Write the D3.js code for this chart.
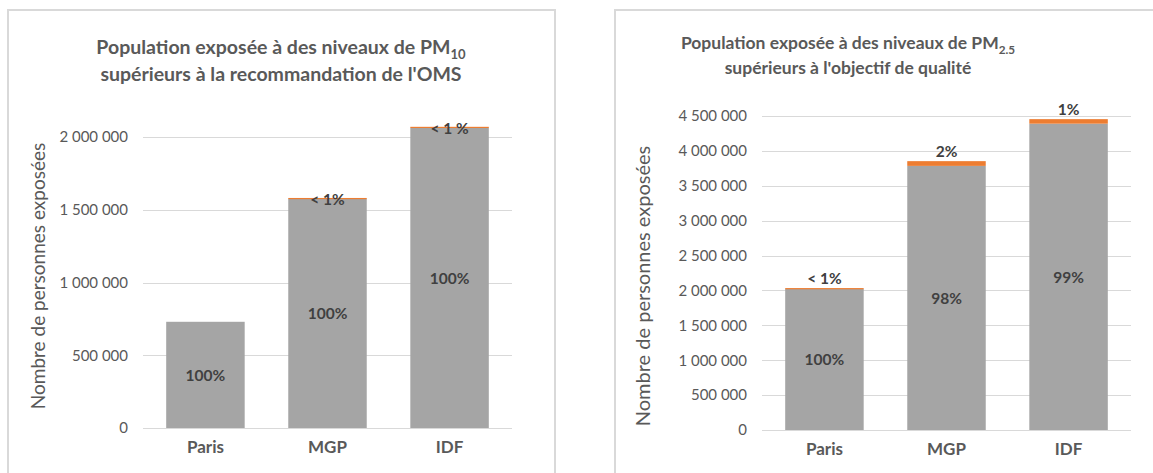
<!DOCTYPE html>
<html><head><meta charset="utf-8">
<script src="https://cdn.jsdelivr.net/npm/d3@7"></script>
<style>
html,body{margin:0;padding:0;background:#fff;}
svg{display:block;font-family:Lato,"Open Sans",sans-serif;}
</style></head>
<body>
<svg id="c" width="1153" height="473"></svg>
<script>
const categories = ["Paris", "MGP", "IDF"];

const pm10Main = [730000, 1575000, 2063000];
const pm10Minor = [0, 6000, 7000];
const pm10MainLabels = ["100%", "100%", "100%"];
const pm10MinorLabels = ["", "< 1%", "< 1 %"];
const pm10Ticks = [0, 500000, 1000000, 1500000, 2000000];

const pm25Main = [2022000, 3785000, 4390000];
const pm25Minor = [12000, 68000, 65000];
const pm25MainLabels = ["100%", "98%", "99%"];
const pm25MinorLabels = ["< 1%", "2%", "1%"];
const pm25Ticks = [0, 500000, 1000000, 1500000, 2000000, 2500000, 3000000, 3500000, 4000000, 4500000];

const yTitle = "Nombre de personnes exposées";

const fr = d3.formatLocale({decimal: ",", thousands: "\u00a0", grouping: [3], currency: ["", " €"]});
const fmt = fr.format(",d");

const svg = d3.select("#c");
const GRAY = "#a5a5a5", ORANGE = "#ed7d31", TXT = "#595959", LBL = "#404040", GRID = "#d9d9d9";

function drawChart(o) {
  const g = svg.append("g");
  g.append("rect").attr("x", o.box[0]).attr("y", o.box[1]).attr("width", o.box[2]).attr("height", o.box[3])
    .attr("fill", "#fff").attr("stroke", GRID).attr("stroke-width", 2);

  const x = d3.scaleBand().domain(categories).range(o.xr).paddingInner(0.357).paddingOuter(0.19);
  const y = d3.scaleLinear().domain([0, o.ticks[o.ticks.length - 1]]).range(o.yr);

  g.append("g").selectAll("line").data(o.ticks).join("line")
    .attr("x1", o.xr[0]).attr("x2", o.xr[1])
    .attr("y1", d => Math.round(y(d)) + 0.5).attr("y2", d => Math.round(y(d)) + 0.5)
    .attr("stroke", GRID).attr("stroke-width", 1);

  const ya = d3.axisLeft(y).tickValues(o.ticks).tickFormat(fmt).tickSize(0).tickPadding(0);
  const yg = g.append("g").attr("transform", `translate(${o.xr[0] - 15},0)`).call(ya);
  yg.select(".domain").remove();
  yg.selectAll("text").attr("fill", TXT).style("font-size", "15px").style("font-family", "Lato");

  const xa = d3.axisBottom(x).tickSize(0).tickPadding(0);
  const xg = g.append("g").attr("transform", `translate(0,${o.yr[0] + 13})`).call(xa);
  xg.select(".domain").remove();
  xg.selectAll("text").attr("fill", TXT).style("font-size", "17px").style("font-weight", "bold").style("font-family", "Lato");

  const rows = categories.map((c, i) => ({c, a: o.main[i], b: o.minor[i], la: o.mainLabels[i], lb: o.minorLabels[i]}));

  g.append("g").selectAll("rect").data(rows).join("rect")
    .attr("x", d => x(d.c)).attr("width", x.bandwidth())
    .attr("y", d => y(d.a)).attr("height", d => y(0) - y(d.a)).attr("fill", GRAY);
  g.append("g").selectAll("rect").data(rows.filter(d => d.b > 0)).join("rect")
    .attr("x", d => x(d.c)).attr("width", x.bandwidth())
    .attr("y", d => y(d.a + d.b)).attr("height", d => Math.max(1.2, y(d.a) - y(d.a + d.b))).attr("fill", ORANGE);

  g.append("g").selectAll("text").data(rows).join("text")
    .attr("x", d => x(d.c) + x.bandwidth() / 2).attr("y", d => (y(0) + y(d.a)) / 2)
    .attr("text-anchor", "middle").attr("dominant-baseline", "central")
    .attr("fill", LBL).style("font-size", "15.5px").style("font-weight", "bold").text(d => d.la);
  g.append("g").selectAll("text").data(rows.filter(d => d.lb)).join("text")
    .attr("x", d => x(d.c) + x.bandwidth() / 2).attr("y", d => y(d.a + d.b) + o.minorDy)
    .attr("text-anchor", "middle").attr("dominant-baseline", "central")
    .attr("fill", LBL).style("font-size", "15.5px").style("font-weight", "bold").text(d => d.lb);

  g.append("text").attr("transform", `translate(${o.ytx},${o.yty}) rotate(-90)`)
    .attr("text-anchor", "middle").attr("dominant-baseline", "central")
    .attr("fill", TXT).style("font-size", o.ytSize + "px").text(yTitle);

  const t1 = g.append("text").attr("x", o.tx).attr("y", o.ty1).attr("text-anchor", "middle")
    .attr("fill", TXT).style("font-size", o.tSize + "px").style("font-weight", "bold");
  t1.append("tspan").text(o.title1);
  t1.append("tspan").attr("dy", 5).style("font-size", (o.tSize * 0.67) + "px").text(o.sub);
  g.append("text").attr("x", o.tx).attr("y", o.ty2).attr("text-anchor", "middle")
    .attr("fill", TXT).style("font-size", o.tSize + "px").style("font-weight", "bold").text(o.title2);
}

drawChart({
  box: [8, 10, 547, 480], xr: [143, 512], yr: [428, 137], ticks: pm10Ticks,
  main: pm10Main, minor: pm10Minor, mainLabels: pm10MainLabels, minorLabels: pm10MinorLabels, minorDy: 1,
  ytx: 37, yty: 276, ytSize: 19, tx: 281, ty1: 54, ty2: 81, tSize: 19.5,
  title1: "Population exposée à des niveaux de PM", sub: "10",
  title2: "supérieurs à la recommandation de l'OMS"
});
drawChart({
  box: [615, 10, 560, 480], xr: [762, 1131], yr: [430, 116], ticks: pm25Ticks,
  main: pm25Main, minor: pm25Minor, mainLabels: pm25MainLabels, minorLabels: pm25MinorLabels, minorDy: -10,
  ytx: 642, yty: 286, ytSize: 20, tx: 848, ty1: 49, ty2: 74, tSize: 17.5,
  title1: "Population exposée à des niveaux de PM", sub: "2.5",
  title2: "supérieurs à l'objectif de qualité"
});
</script>
</body></html>
